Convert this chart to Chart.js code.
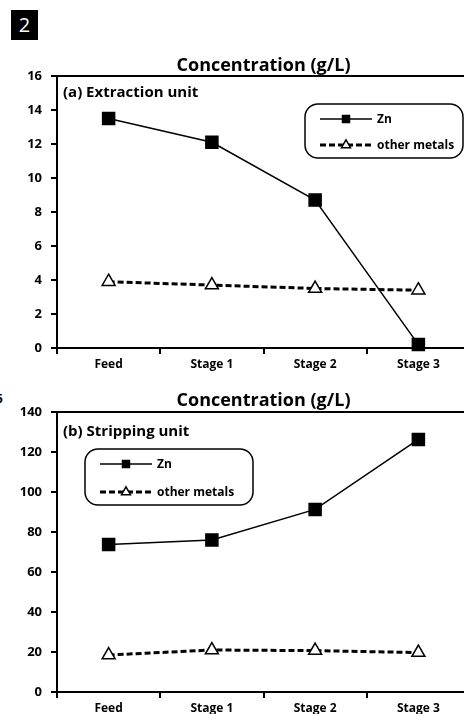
<!DOCTYPE html>
<html>
<head>
<meta charset="utf-8">
<script src="https://cdn.jsdelivr.net/npm/chart.js@4.4.0/dist/chart.umd.min.js"></script>
<style>
	body { margin: 0; width: 464px; height: 714px; overflow: hidden; background: #fff; font-family: "Open Sans", sans-serif; }
	#fig { position: relative; width: 464px; height: 714px; overflow: hidden; }
	canvas { position: absolute; left: 0; }
	#topChart { top: 40px; }
	#bottomChart { top: 385px; }
	.badge { position: absolute; left: 11px; top: 10px; width: 27px; height: 30px; background: #000; color: #fff; font-size: 20px; line-height: 30px; text-align: center; }
	.stray { position: absolute; left: -4px; top: 390px; font-weight: bold; font-size: 12px; }
</style>
</head>
<body>
<div id="fig">
	<div class="badge">2</div>
	<div class="stray">5</div>
	<canvas id="topChart" width="480" height="340"></canvas>
	<canvas id="bottomChart" width="480" height="329"></canvas>
</div>
<script>
	var stages = ['Feed', 'Stage 1', 'Stage 2', 'Stage 3'];

	// (a) extraction unit, g/L
	var extractionZn = [13.5, 12.1, 8.7, 0.2];
	var extractionOther = [3.9, 3.7, 3.5, 3.4];
	var extractionTicks = [0, 2, 4, 6, 8, 10, 12, 14, 16];

	// (b) stripping unit, g/L
	var strippingZn = [73.8, 76, 91.3, 126.3];
	var strippingOther = [18.5, 21, 20.7, 19.7];
	var strippingTicks = [0, 20, 40, 60, 80, 100, 120, 140];

	var uiFont = '"Open Sans"';
	var chartTitle = 'Concentration (g/L)';

	function marker(ctx, style, x, y, r) {
		ctx.beginPath();
		if (style == 'rect') {
			ctx.rect(x - r, y - r, 2 * r, 2 * r);
		} else {
			ctx.moveTo(x, y - r * 1.15);
			ctx.lineTo(x + r, y + r * 0.6);
			ctx.lineTo(x - r, y + r * 0.6);
			ctx.closePath();
		}
		ctx.fill();
		ctx.stroke();
	}

	// title over the plot, frame, panel label and the rounded legend box
	var panelDecor = {
		id: 'panelDecor',
		afterDraw: function(chart, args, opts) {
			var ctx = chart.ctx, a = chart.chartArea;
			ctx.save();
			ctx.strokeStyle = '#000';
			ctx.fillStyle = '#000';
			ctx.lineWidth = 2;
			ctx.beginPath();
			ctx.moveTo(a.left, a.top);
			ctx.lineTo(a.right, a.top);
			ctx.lineTo(a.right, a.bottom);
			ctx.stroke();

			ctx.textBaseline = 'middle';
			ctx.textAlign = 'center';
			ctx.font = 'bold 18px ' + uiFont;
			ctx.fillText(chartTitle, (a.left + a.right) / 2, a.top - opts.titleGap);

			ctx.textAlign = 'left';
			ctx.font = 'bold 15px ' + uiFont;
			ctx.fillText(opts.label, a.left + 6, a.top + opts.labelY);

			var bx = a.left + opts.boxX, by = a.top + opts.boxY;
			ctx.lineWidth = 1.5;
			ctx.beginPath();
			ctx.roundRect(bx, by, opts.boxW, opts.boxH, 13);
			ctx.stroke();

			var rows = [by + 15, by + opts.boxH - 13];
			ctx.font = 'bold 12px ' + uiFont;
			chart.data.datasets.forEach(function(ds, i) {
				var y = rows[i], x0 = bx + 15, x1 = x0 + 52;
				ctx.strokeStyle = '#000';
				ctx.lineWidth = ds.borderWidth;
				ctx.setLineDash(ds.borderDash || []);
				ctx.beginPath();
				ctx.moveTo(x0, y);
				ctx.lineTo(x1, y);
				ctx.stroke();
				ctx.setLineDash([]);
				ctx.lineWidth = 1.5;
				ctx.fillStyle = ds.pointBackgroundColor;
				marker(ctx, ds.pointStyle, (x0 + x1) / 2, y, ds.pointStyle == 'rect' ? 3.5 : 4.5);
				ctx.fillStyle = '#000';
				ctx.fillText(ds.label, bx + 72, y + 1);
			});
			ctx.restore();
		}
	};

	function makeChart(id, zn, other, ticks, decor, padTop, xHeight) {
		var ctx = document.getElementById(id).getContext('2d');
		return new Chart(ctx, {
			type: 'line',
			data: {
				labels: stages,
				datasets: [{
					label: 'Zn',
					data: zn,
					borderColor: '#000',
					borderWidth: 1.5,
					pointStyle: 'rect',
					pointRadius: 8.5,
					pointBackgroundColor: '#000',
					pointBorderColor: '#000',
					pointBorderWidth: 1.5,
					tension: 0,
					clip: false
				}, {
					label: 'other metals',
					data: other,
					borderColor: '#000',
					borderWidth: 3,
					borderDash: [6, 3],
					pointStyle: 'triangle',
					pointRadius: 7.5,
					pointBackgroundColor: '#fff',
					pointBorderColor: '#000',
					pointBorderWidth: 1.5,
					tension: 0,
					clip: false
				}]
			},
			options: {
				responsive: false,
				animation: false,
				devicePixelRatio: 1,
				layout: { padding: { left: 2, right: 5, top: padTop, bottom: 0 } },
				plugins: {
					legend: { display: false },
					tooltip: { enabled: false },
					title: { display: false },
					panelDecor: decor
				},
				scales: {
					x: {
						offset: true,
						grid: { offset: true, drawOnChartArea: false, tickLength: 6, color: '#000', lineWidth: 2 },
						border: { color: '#000', width: 2 },
						ticks: { color: '#000', font: { family: uiFont, size: 12, weight: 'bold' }, padding: 3, maxRotation: 0 },
						afterFit: function(scale) { scale.height = xHeight; }
					},
					y: {
						min: ticks[0],
						max: ticks[ticks.length - 1],
						ticks: { stepSize: ticks[1] - ticks[0], color: '#000', font: { family: uiFont, size: 13, weight: 'bold' }, padding: 9 },
						grid: { drawOnChartArea: false, tickLength: 6, color: '#000', lineWidth: 2 },
						border: { color: '#000', width: 2 },
						afterFit: function(scale) { scale.width = 55; }
					}
				}
			},
			plugins: [panelDecor]
		});
	}

	makeChart('topChart', extractionZn, extractionOther, extractionTicks,
		{ label: '(a) Extraction unit', titleGap: 10, labelY: 17, boxX: 248, boxY: 28, boxW: 158, boxH: 54 }, 36, 32);
	makeChart('bottomChart', strippingZn, strippingOther, strippingTicks,
		{ label: '(b) Stripping unit', titleGap: 11, labelY: 20, boxX: 28, boxY: 37, boxW: 168, boxH: 56 }, 27, 22);
</script>
</body>
</html>
